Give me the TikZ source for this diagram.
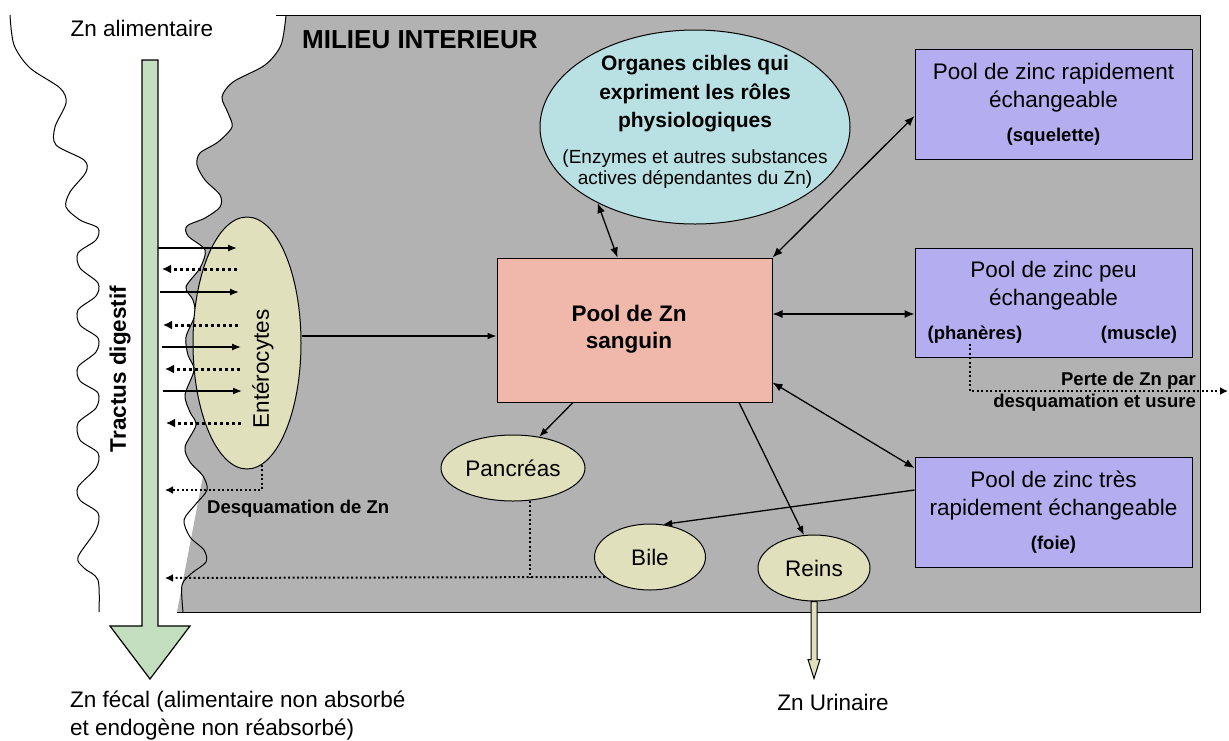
\documentclass[tikz,border=0pt]{standalone}
\usepackage{fontspec}
\setmainfont{Liberation Sans}
\usetikzlibrary{arrows.meta,shapes.geometric}
\definecolor{gbg}{HTML}{B2B2B2}
\definecolor{gutg}{HTML}{C3DFC0}
\definecolor{yel}{HTML}{E0E0BD}
\definecolor{cya}{HTML}{B9E1E4}
\definecolor{pnk}{HTML}{EFB8AB}
\definecolor{pur}{HTML}{B4AEF0}
\newcommand{\fnorm}{\fontsize{22.5}{28}\selectfont}
\newcommand{\fbold}{\fontsize{18.5}{22}\selectfont\bfseries}
\begin{document}
\begin{tikzpicture}[x=1pt,y=-1pt,
  txt/.style={inner sep=0pt,align=center},
  boxnode/.style={draw,line width=1pt,inner sep=0pt},
  ell/.style={draw,ellipse,line width=1pt,inner sep=0pt,fill=yel},
  arr/.style={line width=1.3pt,-{Latex[length=9pt,width=7pt]}},
  darr/.style={line width=1.3pt,{Latex[length=10pt,width=8pt]}-{Latex[length=10pt,width=8pt]}},
  dotthick/.style={line width=3pt,dash pattern=on 3pt off 3pt,-{Latex[length=9pt,width=9pt]}},
  dotthin/.style={line width=2pt,dash pattern=on 2pt off 2.5pt},
  wave/.style={line width=1pt}
]
\useasboundingbox (0,0) rectangle (1229,740);
\fill[white] (0,0) rectangle (1229,740);
% grey interior
\fill[gbg] plot[smooth] coordinates {(286,15) (281,45) (265,65) (233,82) (222,97) (228,113) (232,127) (218,142) (200,153) (197,165) (205,180) (220,195) (220,207) (205,218) (187,226) (188,236) (205,250) (200,268) (186,287) (193,300) (195,315) (186,337) (188,355) (194,370) (185,395) (190,412) (196,425) (185,447) (190,462) (203,476)} -- (177,612) -- (1200,612) -- (1200,15) -- cycle;
\draw[line width=1pt] (276,15) -- (1200,15) -- (1200,612) -- (177,612);
% waves
\draw[wave] plot[smooth] coordinates {(286,15) (281,45) (265,65) (233,82) (222,97) (228,113) (232,127) (218,142) (200,153) (197,165) (205,180) (220,195) (220,207) (205,218) (187,226) (188,236) (205,250) (200,268) (186,287) (193,300) (195,315) (186,337) (188,355) (194,370) (185,395) (190,412) (196,425) (185,447) (190,462) (203,476) (207,490) (195,505) (184,520) (190,537) (204,550) (206,562) (192,573) (182,585) (183,612)};
\draw[wave] plot[smooth] coordinates {(10,15) (14,45) (30,68) (60,88) (66,103) (55,127) (56,145) (84,160) (86,172) (70,192) (66,207) (80,220) (98,228) (96,240) (78,253) (80,268) (98,283) (96,296) (78,310) (80,325) (98,338) (96,352) (78,367) (80,381) (98,393) (96,408) (78,423) (80,440) (98,453) (96,468) (78,487) (80,500) (98,513) (96,530) (78,557) (84,568) (98,580) (99,612)};
% big green arrow
\draw[line width=1.2pt,fill=gutg] (142,60) -- (158,60) -- (158,626) -- (190,626) -- (150,679) -- (110,626) -- (142,626) -- cycle;
\node[txt,font=\fnorm] (zna) at (142,28) {Zn alimentaire};
\node[txt,font=\fontsize{22.5}{28}\selectfont\bfseries,rotate=90] (tract) at (120,369) {Tractus digestif};
\node[txt,font=\fnorm,align=left,anchor=west] (fecal) at (70,716) {Zn fécal (alimentaire non absorbé\\et endogène non réabsorbé)};
\node[txt,font=\fontsize{26}{30}\selectfont\bfseries,anchor=west] (mil) at (302,40) {MILIEU INTERIEUR};
% nodes
\node[ell,fill=cya,minimum width=310pt,minimum height=194pt] (org) at (695,127) {};
\node[txt,font=\fontsize{21}{28.5}\selectfont\bfseries] (orgt) at (695,94) {Organes cibles qui\\expriment les rôles\\physiologiques};
\node[txt,font=\fontsize{19}{21.5}\selectfont] (orgs) at (695,169) {(Enzymes et autres substances\\actives dépendantes du Zn)};
\node[boxnode,fill=pnk,minimum width=275pt,minimum height=144pt] (pool) at (634.5,330) {};
\node[txt,font=\fontsize{22.5}{27}\selectfont\bfseries] (poolt) at (629,329) {Pool de Zn\\sanguin};
\node[boxnode,fill=pur,minimum width=277pt,minimum height=110pt] (sq) at (1053.5,104) {};
\node[txt,font=\fnorm] (sqt) at (1053.5,88) {Pool de zinc rapidement\\échangeable};
\node[txt,font=\fbold] (sqs) at (1053.5,137) {(squelette)};
\node[boxnode,fill=pur,minimum width=277pt,minimum height=109pt] (peu) at (1053.5,302.5) {};
\node[txt,font=\fnorm] (peut) at (1053.5,286) {Pool de zinc peu\\échangeable};
\node[txt,font=\fbold] (phan) at (975,335) {(phanères)};
\node[txt,font=\fbold] (musc) at (1139,335) {(muscle)};
\node[boxnode,fill=pur,minimum width=277pt,minimum height=110pt] (foie) at (1053.5,512.5) {};
\node[txt,font=\fnorm] (foiet) at (1053.5,496) {Pool de zinc très\\rapidement échangeable};
\node[txt,font=\fbold] (foies) at (1053.5,545) {(foie)};
\node[ell,minimum width=108pt,minimum height=252pt] (ent) at (247,343) {};
\node[txt,font=\fnorm,rotate=90] (entt) at (263,369) {Entérocytes};
\node[ell,minimum width=144pt,minimum height=66pt] (panc) at (513,468) {};
\node[txt,font=\fnorm] at (panc) {Pancréas};
\node[ell,minimum width=111pt,minimum height=66pt] (bile) at (650,557) {};
\node[txt,font=\fnorm] at (bile) {Bile};
\node[ell,minimum width=112pt,minimum height=66pt] (reins) at (814,568) {};
\node[txt,font=\fnorm] at (reins) {Reins};
\node[txt,font=\fbold,anchor=west] (desq) at (207,509) {Desquamation de Zn};
\node[txt,font=\fbold,align=right,anchor=east] (perte) at (1196,392) {Perte de Zn par\\desquamation et usure};
\node[txt,font=\fnorm] (uri) at (833,702) {Zn Urinaire};
% urinary arrow
\draw[line width=1pt,fill=yel] ([xshift=-3pt]reins.south) -- ++(0,58) -- ++(-3,0) -- ++(6,19) -- ++(6,-19) -- ++(-3,0) -- ++(0,-58) -- cycle;
% gut exchanges
\foreach \y/\x/\i in {248/158/1,292/160/2,347/162/3,391/163/4}{
  \coordinate (ga\i) at (\x,\y);
  \coordinate (ea\i) at (\x+79,\y);
  \draw[arr] (ga\i) -- (ea\i);
}
\foreach \y/\x/\i in {269/162/1,325/163/2,369/165/3,423/166/4}{
  \coordinate (gb\i) at (\x,\y);
  \coordinate (eb\i) at (\x+75,\y);
  \draw[dotthick] (eb\i) -- (gb\i);
}
% connectors
\draw[arr] ([yshift=7pt]ent.east) -- ([yshift=-6pt]pool.west);
\draw[darr] (org.218) -- ([xshift=-17pt]pool.north);
\draw[darr] ([yshift=-12pt]sq.west) -- (pool.north east);
\draw[darr] ([yshift=-11.5pt]peu.west) -- ([yshift=16pt]pool.east);
\draw[darr] ([yshift=44.5pt]foie.west) -- ([yshift=20pt]pool.south east);
\draw[arr] ([xshift=-61.5pt]pool.south) -- (panc.50);
\draw[arr] ([xshift=104.5pt]pool.south) -- (reins.107);
\draw[arr] ([yshift=22.5pt]foie.west) -- (bile.68);
% dotted losses
\coordinate (gutA) at (165,490);
\coordinate (gutB) at (165,578);
\coordinate (out) at (1228,391);
\draw[dotthin,-{Latex[length=8pt,width=8pt]}] (ent.277.5) |- (gutA);
\draw[dotthin,-{Latex[length=8pt,width=8pt]}] (bile.204) -- (gutB);
\draw[dotthin] (panc.297) -- (panc.297 |- gutB);
\draw[dotthin,-{Latex[length=8pt,width=8pt]}] ([xshift=-83.5pt,yshift=14pt]peu.south) |- (out);
\end{tikzpicture}
\end{document}
